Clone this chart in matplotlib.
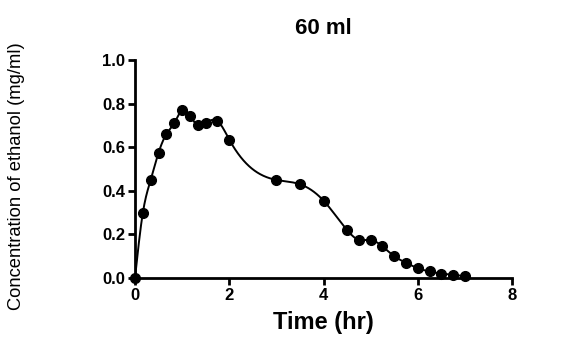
import matplotlib
matplotlib.use("Agg")
import matplotlib.pyplot as plt
import numpy as np

# time in hours, ethanol concentration in mg/ml
time_hr = [0, 0.167, 0.333, 0.5, 0.667, 0.833, 1.0, 1.167, 1.333, 1.5, 1.75, 2.0,
           3.0, 3.5, 4.0, 4.5, 4.75, 5.0, 5.25, 5.5, 5.75, 6.0, 6.25, 6.5, 6.75, 7.0]
conc = [0.0, 0.30, 0.45, 0.575, 0.66, 0.71, 0.77, 0.745, 0.70, 0.71, 0.72, 0.635,
        0.45, 0.43, 0.355, 0.22, 0.175, 0.175, 0.145, 0.10, 0.07, 0.045, 0.03, 0.02, 0.015, 0.008]
x_ticks = [0, 2, 4, 6, 8]
y_ticks = [0.0, 0.2, 0.4, 0.6, 0.8, 1.0]


def natural_spline(x, y, n=600):
    """Natural cubic spline through the points (no scipy needed)"""
    x = np.asarray(x, float)
    y = np.asarray(y, float)
    k = len(x)
    h = np.diff(x)
    A = np.zeros((k, k))
    b = np.zeros(k)
    A[0, 0] = A[-1, -1] = 1
    for i in range(1, k - 1):
        A[i, i - 1] = h[i - 1]
        A[i, i] = 2 * (h[i - 1] + h[i])
        A[i, i + 1] = h[i]
        b[i] = 6 * ((y[i + 1] - y[i]) / h[i] - (y[i] - y[i - 1]) / h[i - 1])
    m = np.linalg.solve(A, b)
    xs = np.linspace(x[0], x[-1], n)
    idx = np.clip(np.searchsorted(x, xs) - 1, 0, k - 2)
    x0, x1 = x[idx], x[idx + 1]
    hh = x1 - x0
    t0, t1 = x1 - xs, xs - x0
    ys = (m[idx] * t0 ** 3 + m[idx + 1] * t1 ** 3) / (6 * hh) \
        + (y[idx] / hh - m[idx] * hh / 6) * t0 \
        + (y[idx + 1] / hh - m[idx + 1] * hh / 6) * t1
    return xs, ys


plt.rcParams['font.family'] = ['Liberation Sans', 'DejaVu Sans']

fig = plt.figure(figsize=(5.7, 3.55), dpi=100)
ax = fig.add_axes([135 / 570, 1 - 278 / 355, 377 / 570, 218 / 355])

xs, ys = natural_spline(time_hr, conc)
ax.plot(xs, ys, color='black', lw=1.4, zorder=2)
ax.plot(time_hr, conc, 'o', color='black', ms=7, zorder=3, clip_on=False)

ax.set_xlim(0, 8)
ax.set_ylim(0, 1.0)
ax.set_xticks(x_ticks)
ax.set_yticks(y_ticks)
ax.set_yticklabels(['%.1f' % v for v in y_ticks])

for side in ['top', 'right']:
    ax.spines[side].set_visible(False)
for side in ['left', 'bottom']:
    ax.spines[side].set_linewidth(2)
ax.tick_params(width=2, length=5, direction='out', labelsize=12, pad=2)
for lab in ax.get_xticklabels() + ax.get_yticklabels():
    lab.set_fontweight('bold')

ax.set_title('60 ml', fontsize=16, fontweight='bold', y=(278 - 29) / 218, va='center', pad=0)
ax.set_xlabel('Time (hr)', fontsize=17, fontweight='bold', va='center')
ax.xaxis.set_label_coords(0.5, (278 - 323) / 218)
ax.set_ylabel('Concentration of ethanol (mg/ml)', fontsize=13.2, va='center')
ax.yaxis.set_label_coords((16 - 135) / 377, (278 - 176) / 218)

fig.savefig('out.png', dpi=100)
